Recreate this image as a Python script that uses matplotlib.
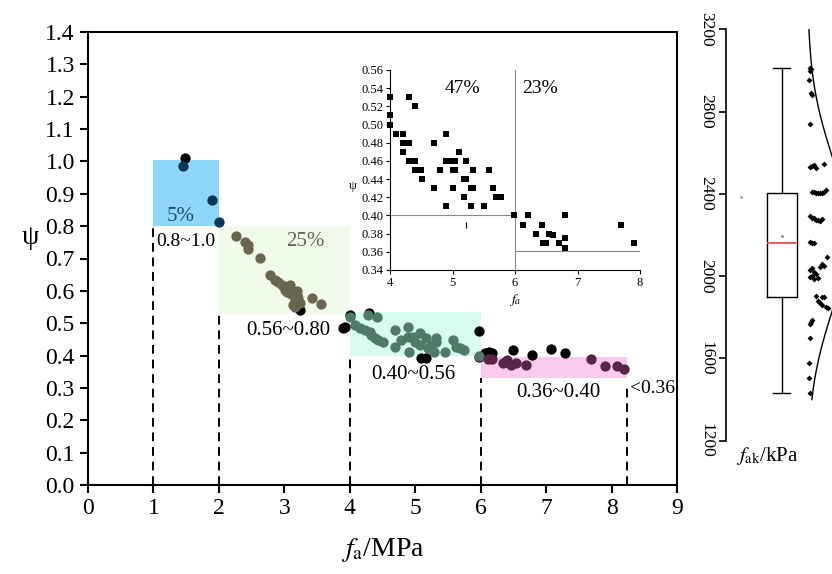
import numpy as np
import matplotlib
matplotlib.use("Agg")
import matplotlib.pyplot as plt
from matplotlib.patches import Rectangle

plt.rcParams['font.family'] = ['Liberation Serif', 'DejaVu Serif']
plt.rcParams['mathtext.fontset'] = 'stix'

# main scatter, grouped by psi class
blue_x = [1.45, 1.89, 2.00]
blue_y = [0.986, 0.881, 0.812]

green_x = [2.26, 2.40, 2.44, 2.45, 2.63, 2.78, 2.86, 2.91, 2.96, 3.03, 3.09, 3.01, 3.04,
           3.19, 3.21, 3.16, 3.24, 3.16, 3.43, 3.56, 3.14, 3.10, 3.20]
green_y = [0.770, 0.752, 0.742, 0.729, 0.702, 0.649, 0.634, 0.628, 0.618, 0.613, 0.618, 0.603, 0.597,
           0.587, 0.577, 0.572, 0.561, 0.551, 0.579, 0.558, 0.556, 0.590, 0.600]

teal_x = [4.00, 4.08, 4.16, 4.23, 4.31, 4.41, 4.33, 4.38, 4.43, 4.51, 4.69, 4.69, 4.78, 4.89,
          4.89, 4.91, 4.97, 5.00, 5.07, 5.07, 5.17, 5.20, 5.25, 5.28, 5.31, 5.32, 5.46, 5.57,
          5.62, 5.68, 5.75, 5.97, 4.28]
teal_y = [0.520, 0.494, 0.484, 0.479, 0.474, 0.518, 0.464, 0.453, 0.448, 0.443, 0.479, 0.427, 0.448, 0.489,
          0.458, 0.412, 0.458, 0.443, 0.469, 0.433, 0.453, 0.422, 0.433, 0.412, 0.453, 0.443, 0.412, 0.448,
          0.427, 0.422, 0.417, 0.400, 0.525]

pink_x = [6.11, 6.18, 6.34, 6.41, 6.46, 6.54, 6.70, 7.69, 7.90, 8.09, 8.19]
pink_y = [0.388, 0.388, 0.378, 0.386, 0.371, 0.378, 0.371, 0.388, 0.369, 0.369, 0.358]

black_x = [1.48, 3.24, 3.90, 3.93, 4.00, 4.30, 5.09, 5.17, 5.98, 5.98, 6.06, 6.12, 6.18,
           6.49, 6.78, 7.08, 7.29]
black_y = [1.012, 0.541, 0.484, 0.489, 0.525, 0.531, 0.392, 0.392, 0.477, 0.397, 0.409, 0.412, 0.407,
           0.417, 0.402, 0.419, 0.409]

# inset (squares)
ins_x = [4.0, 4.0, 4.0, 4.1, 4.2, 4.2, 4.3, 4.2, 4.3, 4.4, 4.3, 4.4, 4.4, 4.5, 4.51, 4.7, 4.7,
         4.8, 4.9, 4.9, 4.95, 5.0, 5.04, 4.9, 5.0, 5.04, 5.0, 5.1, 5.22, 5.19, 5.22, 5.19,
         5.32, 5.29, 5.32, 5.29, 5.5, 5.58, 5.64, 5.7, 5.73, 5.77, 5.98, 6.12, 6.2, 6.34,
         6.43, 6.45, 6.5, 6.55, 6.6, 6.7, 6.8, 6.8, 6.8, 7.7, 7.9]
ins_y = [0.53, 0.51, 0.50, 0.49, 0.49, 0.48, 0.48, 0.47, 0.53, 0.52, 0.46, 0.46, 0.45, 0.45, 0.44, 0.48, 0.43,
         0.45, 0.49, 0.46, 0.46, 0.46, 0.46, 0.41, 0.45, 0.45, 0.43, 0.47, 0.46, 0.44, 0.44, 0.42,
         0.45, 0.43, 0.43, 0.41, 0.41, 0.45, 0.43, 0.42, 0.42, 0.42, 0.40, 0.39, 0.40, 0.38,
         0.39, 0.37, 0.37, 0.38, 0.378, 0.37, 0.40, 0.375, 0.364, 0.39, 0.37]

# f_ak distribution (kPa) and horizontal jitter position
fak = [3010, 3005, 2998, 2955, 2888, 2880, 2740,
       2530, 2535, 2540, 2525, 2545,
       2410, 2408, 2405, 2404, 2405, 2406, 2410, 2418,
       2290, 2285, 2282, 2275, 2272, 2270, 2280,
       2165, 2162, 2160, 2095,
       2060, 2050, 2040, 2030, 2020, 2010, 2000, 1995, 1990, 1985, 2045,
       1905, 1900, 1898, 1880, 1870, 1860, 1850, 1845,
       1785, 1775, 1765, 1700, 1580, 1505, 1430]
fak_jit = [84, 85, 84.5, 83, 85, 86, 84,
           84, 86, 88, 90, 98,
           86, 88, 90, 92, 94, 96, 98, 100,
           84, 86, 88, 90, 92, 94, 96,
           84, 86, 88, 101,
           96, 98, 86, 84, 88, 90, 86, 84, 92, 88, 94,
           90, 96, 98, 92, 94, 96, 100, 102,
           86, 85, 84, 84, 83, 83, 84]
box_stats = dict(med=2160, q1=1900, q3=2406, whislo=1430, whishi=3012, mean=2197, fliers=[])

W, H = 832, 574
fig = plt.figure(figsize=(W / 100, H / 100), dpi=100)
ax = fig.add_axes([88 / W, 1 - 485 / H, 589 / W, 453 / H])

# class rectangles
ax.add_patch(Rectangle((1, 0.80), 1, 0.205, color='#8fd7fa', zorder=1, lw=0))
ax.add_patch(Rectangle((2, 0.53), 2, 0.27, color='#f1fbea', zorder=1, lw=0))
ax.add_patch(Rectangle((4, 0.40), 2, 0.135, color='#d8fbf1', zorder=1, lw=0))
ax.add_patch(Rectangle((6, 0.33), 2.24, 0.067, color='#f9c9ee', zorder=1, lw=0))

dash = (0, (4.5, 3))
ax.vlines([1, 2, 4, 6, 8.24], 0, [0.80, 0.53, 0.40, 0.33, 0.31], colors='k', linestyles=dash, lw=1.4, zorder=2)

ms = 55
ax.scatter(black_x, black_y, s=ms, c='k', zorder=3, lw=0)
ax.scatter(blue_x, blue_y, s=ms, c='#0c3656', zorder=4, lw=0)
ax.scatter(green_x, green_y, s=ms, c='#6a6550', zorder=4, lw=0)
ax.scatter(teal_x, teal_y, s=ms, c='#4e7a67', zorder=4, lw=0)
ax.scatter(pink_x, pink_y, s=ms, c='#5a2448', zorder=4, lw=0)

ax.text(1.42, 0.83, '5%', fontsize=15, color='#1f4c6b', ha='center', va='center', zorder=5)
ax.text(3.32, 0.754, '25%', fontsize=15, color='#6a6550', ha='center', va='center', zorder=5)
ax.text(1.5, 0.754, '0.8~1.0', fontsize=14, ha='center', va='center')
ax.text(3.06, 0.479, '0.56~0.80', fontsize=15, ha='center', va='center')
ax.text(4.97, 0.34, '0.40~0.56', fontsize=15, ha='center', va='center')
ax.text(7.19, 0.287, '0.36~0.40', fontsize=15, ha='center', va='center')
ax.text(8.62, 0.297, '<0.36', fontsize=14, ha='center', va='center')

ax.set_xlim(0, 9)
ax.set_ylim(0, 1.4)
ax.set_xticks(range(10))
ax.set_yticks(np.arange(0, 1.41, 0.1))
ax.set_yticklabels([f'{v:.1f}' for v in np.arange(0, 1.41, 0.1)])
ax.tick_params(direction='out', length=6, width=1.5, labelsize=17)
for s in ax.spines.values():
    s.set_linewidth(1.5)
ax.set_xlabel(r'$f_{\rm a}$/MPa', fontsize=20, labelpad=12)
fig.text(30 / W, 1 - 238 / H, 'ψ', fontsize=20, ha='center', va='center')

# inset
ai = fig.add_axes([390 / W, 1 - 270 / H, 250 / W, 200 / H])
ai.patch.set_alpha(0)
ai.scatter(ins_x, ins_y, marker='s', s=18, c='k', lw=0, clip_on=False, zorder=3)
ai.plot([4, 6], [0.40, 0.40], color='#8a8a8a', lw=0.8)
ai.plot([6, 6], [0.34, 0.56], color='#8a8a8a', lw=0.8)
ai.plot([6, 8], [0.361, 0.361], color='#8a8a8a', lw=0.8)
ai.plot([5.22], [0.39], marker='|', ms=4, color='k', mew=0.8)
ai.text(5.45, 0.54, '47%', fontsize=14, ha='right', va='center')
ai.text(6.12, 0.54, '23%', fontsize=14, ha='left', va='center')
ai.set_xlim(4, 8)
ai.set_ylim(0.34, 0.56)
ai.set_xticks([4, 5, 6, 7, 8])
ai.set_yticks(np.arange(0.34, 0.561, 0.02))
ai.set_yticklabels([f'{v:.2f}' for v in np.arange(0.34, 0.561, 0.02)])
ai.tick_params(direction='out', length=3, width=0.8, labelsize=9, pad=2)
ai.spines['top'].set_visible(False)
ai.spines['right'].set_visible(False)
for s in ['left', 'bottom']:
    ai.spines[s].set_linewidth(0.8)
ai.set_xlabel(r'$f_a$', fontsize=10, labelpad=2)
ai.set_ylabel('ψ', fontsize=9, rotation=0, va='center')
ai.yaxis.set_label_coords(-0.148, 0.42)

# right panel: f_ak box plot with data and fitted normal curve
ar = fig.add_axes([725.7 / W, 1 - 440.7 / H, (W - 725.7) / W, 411.4 / H])
ar.patch.set_alpha(0)
ar.set_xlim(0, W - 725.7)
ar.set_ylim(1200, 3200)
ar.bxp([box_stats], positions=[56], widths=30, showmeans=True, showfliers=False, capwidths=17,
       boxprops=dict(lw=1.0, color='k'), whiskerprops=dict(lw=1.0, color='k'),
       capprops=dict(lw=1.0, color='k'), medianprops=dict(lw=1.2, color='#e8403f'),
       meanprops=dict(marker='.', ms=2, color='#888888', mec='#888888'))
ar.scatter(fak_jit, fak, s=9, c='k', marker='D', lw=0)
ar.plot([15.3], [2386], marker='.', ms=1.5, color='#888888')
mu, sd = np.mean(fak), np.std(fak)
yy = np.linspace(1400, 3200, 200)
ar.plot(82 + 40 * np.exp(-0.5 * ((yy - mu) / sd) ** 2), yy, color='k', lw=1.0)
ar.set_yticks(range(1200, 3201, 400))
ar.set_yticklabels([str(v) for v in range(1200, 3201, 400)], rotation=270, va='center')
ar.set_xticks([])
ar.tick_params(axis='y', direction='out', length=5, width=1.2, labelsize=12.5, pad=3)
for s in ['top', 'right', 'bottom']:
    ar.spines[s].set_visible(False)
ar.spines['left'].set_linewidth(1.2)
fig.text(767 / W, 1 - 456 / H, r'$f_{\rm ak}$/kPa', fontsize=15, ha='center', va='center')

fig.savefig('out.png', dpi=100)
